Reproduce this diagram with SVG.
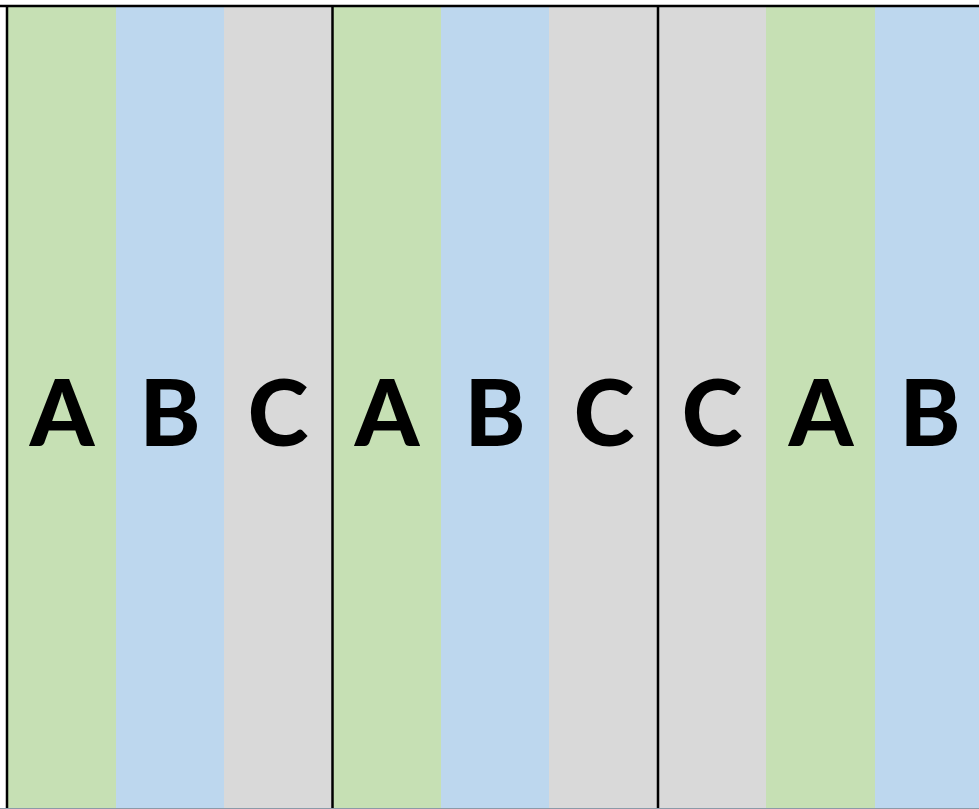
<svg xmlns="http://www.w3.org/2000/svg" width="979" height="809" viewBox="0 0 979 809">
<style>
.g{fill:#c6e0b4}.b{fill:#bdd7ee}.c{fill:#d9d9d9}
text{font-family:Lato,"Liberation Sans",sans-serif;font-weight:900;font-size:92px;fill:#000;text-anchor:middle}
.ln{stroke:#000;stroke-width:2.5}
</style>
<rect width="979" height="809" fill="#fff"/>
<g id="col1"><rect class="g" x="7" y="6" width="109" height="803"/><text x="62" y="446">A</text></g>
<g id="col2"><rect class="b" x="116" y="6" width="108" height="803"/><text x="170" y="446">B</text></g>
<g id="col3"><rect class="c" x="224" y="6" width="108" height="803"/><text x="278" y="446">C</text></g>
<g id="col4"><rect class="g" x="332" y="6" width="109" height="803"/><text x="387" y="446">A</text></g>
<g id="col5"><rect class="b" x="441" y="6" width="108" height="803"/><text x="495" y="446">B</text></g>
<g id="col6"><rect class="c" x="549" y="6" width="109" height="803"/><text x="604" y="446">C</text></g>
<g id="col7"><rect class="c" x="658" y="6" width="108" height="803"/><text x="712" y="446">C</text></g>
<g id="col8"><rect class="g" x="766" y="6" width="109" height="803"/><text x="821" y="446">A</text></g>
<g id="col9"><rect class="b" x="875" y="6" width="104" height="803"/><text x="930" y="446">B</text></g>
<g id="lines">
<line class="ln" x1="0" y1="6" x2="979" y2="6"/>
<line class="ln" x1="7" y1="5" x2="7" y2="809"/>
<line class="ln" x1="332.5" y1="5" x2="332.5" y2="809"/>
<line class="ln" x1="658" y1="5" x2="658" y2="809"/>
<line x1="0" y1="808.5" x2="979" y2="808.5" stroke="#8c9aa8" stroke-width="1"/>
</g>
</svg>
